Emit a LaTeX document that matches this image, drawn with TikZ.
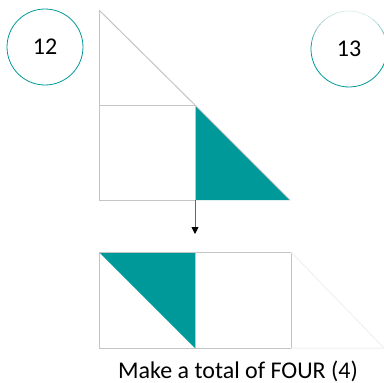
\documentclass[tikz,border=0pt]{standalone}
\usepackage{fontspec}
\setmainfont{Carlito}
\usetikzlibrary{arrows.meta}
\definecolor{teal1}{RGB}{0,153,153}
\definecolor{lgray}{RGB}{196,196,196}
\begin{document}
\begin{tikzpicture}[x=1pt,y=-1pt,
  edge/.style={draw=lgray,line width=1pt},
  numcirc/.style={circle,draw=teal1,line width=0.8pt,minimum size=76pt,inner sep=0pt,font=\fontsize{24}{28}\selectfont},
  lbl/.style={font=\fontsize{24}{28}\selectfont,inner sep=0pt}]
\useasboundingbox (0,0) rectangle (384,383);
% circles
\node[numcirc] (c12) at (45,47) {12};
\begin{scope}
\clip (0,0) rectangle (384,383);
\node[circle,minimum size=76pt,inner sep=0pt,font=\fontsize{24}{28}\selectfont] (c13) at (349,49) {13};
\draw[teal1,line width=0.8pt] (c13.center) ++(-10:38) arc (-10:190:38);
\foreach \a/\o in {190/0.8,200/0.6,210/0.45,220/0.35,230/0.28,240/0.22,250/0.18,260/0.15,270/0.13,280/0.13,290/0.15,300/0.2,310/0.3,320/0.45,330/0.6,340/0.8}{
  \draw[teal1!70!gray,line width=0.8pt,opacity=\o] (c13.center) ++(\a:38) arc (\a:\a+10.5:38);
}
\end{scope}
% top figure
\coordinate (tA) at (99,10);
\coordinate (tB) at (195,105);
\coordinate (tC) at (99,105);
\coordinate (tD) at (99,200);
\coordinate (tE) at (195,200);
\coordinate (tF) at (290,200);
\fill[teal1] (tB) -- (tE) -- (tF) -- cycle;
\draw[edge] (tA) -- (tD) -- (tE) -- (tB) -- (tC);
\draw[edge] (tA) -- (tB) -- (tF);
% arrow
\coordinate (ar) at (195,234);
\draw[line width=0.9pt,black!60,-{Triangle[width=7pt,length=7pt,color=black]}] (tE) -- (ar);
% bottom figure
\coordinate (bA) at (99,252);
\coordinate (bB) at (195,252);
\coordinate (bC) at (291,252);
\coordinate (bD) at (99,348);
\coordinate (bE) at (195,348);
\coordinate (bF) at (291,348);
\coordinate (bG) at (384,348);
\fill[teal1] (bA) -- (bB) -- (bE) -- cycle;
\draw[edge] (bA) rectangle (bF);
\draw[edge] (bB) -- (bE);
\draw[draw=black!6,line width=1pt] (bC) -- (bG) -- (bF);
% caption
\node[lbl,anchor=base] (cap) at (238,378) {Make a total of FOUR (4)};
\end{tikzpicture}
\end{document}
